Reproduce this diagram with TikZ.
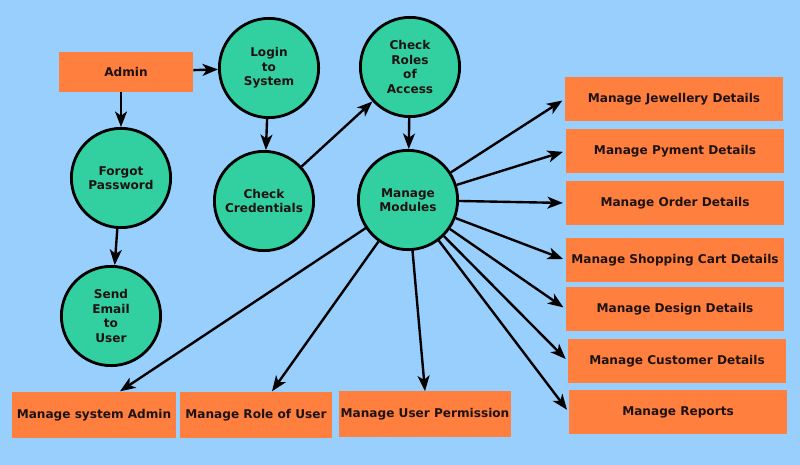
\documentclass[tikz,border=0pt]{standalone}
\usepackage{fontspec}
\setmainfont{DejaVu Sans}
\usetikzlibrary{arrows.meta}

\definecolor{skyback}{RGB}{153,207,253}
\definecolor{boxorange}{RGB}{255,128,62}
\definecolor{procgreen}{RGB}{50,208,160}
\definecolor{inktext}{RGB}{30,18,18}

\begin{document}
\begin{tikzpicture}[x=0.025cm, y=-0.025cm,
      every node/.style={font=\fontsize{8.6}{10.3}\selectfont\bfseries, text=inktext},
      process/.style={circle, draw=black, line width=2pt, fill=procgreen, minimum size=2.48cm, inner sep=0pt, align=center},
      entity/.style={rectangle, fill=boxorange, inner sep=1pt, minimum height=1.1cm},
      module/.style={entity, minimum width=5.45cm},
      flow/.style={->, line width=1.7pt},
      >={Stealth[length=11pt,width=8.5pt,inset=3pt]},
      ]
        \fill[skyback] (0,0) rectangle (800,465);
        \useasboundingbox (0,0) rectangle (800,465);

        \node[entity, minimum width=3.35cm, minimum height=0.98cm] (admin) at (126,72) {Admin};

        \node[process] (login)   at (269,68)  {Login\\to\\System};
        \node[process] (roles)   at (410,67)  {Check\\Roles\\of\\Access};
        \node[process] (forgot)  at (121,178) {Forgot\\Password};
        \node[process] (cred)    at (264,201) {Check\\Credentials};
        \node[process] (modules) at (408,200) {Manage\\Modules};
        \node[process] (email)   at (111,316) {Send\\Email\\to\\User};

        \node[module] (jewel)    at (674,99)  {Manage Jewellery Details};
        \node[module] (pyment)   at (675,151) {Manage Pyment Details};
        \node[module] (order)    at (675,203) {Manage Order Details};
        \node[module] (cart)     at (675,260) {Manage Shopping Cart Details};
        \node[module] (design)   at (675,309) {Manage Design Details};
        \node[module] (customer) at (677,361) {Manage Customer Details};
        \node[module] (reports)  at (678,412) {Manage Reports};

        \node[entity, minimum width=4.1cm, minimum height=1.17cm]  (sysadmin)   at (94,415)  {Manage system Admin};
        \node[entity, minimum width=3.82cm, minimum height=1.17cm] (roleuser)   at (256,415) {Manage Role of User};
        \node[entity, minimum width=4.2cm, minimum height=1.13cm]  (permission) at (425,414) {Manage User Permission};

        \draw[flow] (admin) -- (login);
        \draw[flow] (admin.south -| forgot) -- (forgot);
        \draw[flow] (forgot) -- (email);
        \draw[flow] (login) -- (cred);
        \draw[flow] (cred) -- (roles);
        \draw[flow] (roles) -- (modules);

        \foreach \target in {jewel,pyment,order,cart,design,customer,reports}
          \draw[flow, shorten >=2pt] (modules) -- (\target.west);

        \draw[flow] (modules) -- ([xshift=0.65cm]sysadmin.north);
        \draw[flow] (modules) -- ([xshift=0.4cm]roleuser.north);
        \draw[flow] (modules) -- (permission.north);
\end{tikzpicture}
\end{document}
